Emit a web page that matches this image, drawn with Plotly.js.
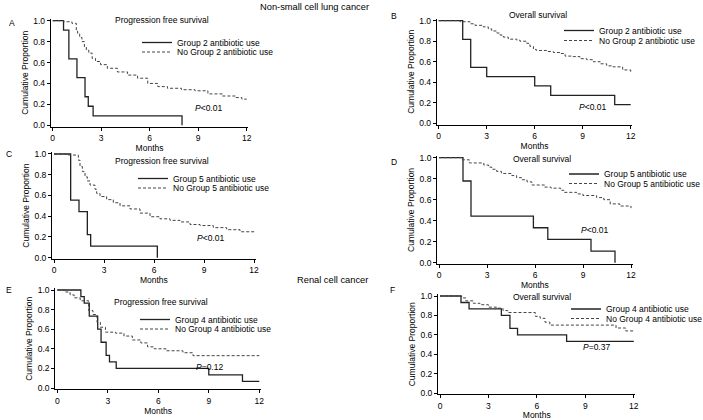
<!DOCTYPE html>
<html><head><meta charset="utf-8">
<script src="https://cdn.plot.ly/plotly-3.0.1.min.js"></script>
<style>html,body{margin:0;padding:0;background:#fff}#chart{width:703px;height:420px}</style>
</head><body><div id="chart"></div>
<script>
// ---------- data (months, cumulative proportion) ----------
const xTicks = [0, 3, 6, 9, 12];
const yTicks = [0, 0.2, 0.4, 0.6, 0.8, 1.0];

// A: NSCLC PFS, Group 2
const A_use_t = [0, 0.67, 1.0, 1.5, 2.0, 2.2, 2.5, 8.0];
const A_use_s = [1, 0.909, 0.636, 0.455, 0.273, 0.182, 0.091, 0];
const A_no_t = [0, 0.67, 1.19, 1.46, 1.54, 1.67, 1.81, 1.96, 2.08, 2.23, 2.44, 2.65, 2.96, 3.38, 4.0, 4.63, 5.25, 5.88, 6.5, 7.1, 7.96, 8.8, 9.6, 10.5, 11.3, 11.7, 12];
const A_no_s = [1, 0.99, 0.975, 0.91, 0.88, 0.84, 0.80, 0.75, 0.72, 0.69, 0.64, 0.61, 0.58, 0.545, 0.51, 0.48, 0.45, 0.40, 0.37, 0.354, 0.34, 0.33, 0.30, 0.28, 0.265, 0.25, 0.25];

// B: NSCLC OS, Group 2
const B_use_t = [0, 1.5, 2.0, 3.0, 6.0, 7.0, 11.0, 12];
const B_use_s = [1, 0.818, 0.545, 0.455, 0.364, 0.273, 0.182, 0.182];
const B_no_t = [0, 1.33, 1.96, 2.27, 2.79, 3.1, 3.31, 3.63, 3.83, 4.04, 4.35, 4.88, 5.08, 5.5, 5.7, 5.92, 6.1, 6.75, 7.17, 7.58, 7.9, 8.4, 8.83, 9.25, 9.67, 10.1, 10.5, 10.9, 11.5, 12];
const B_no_s = [1, 0.99, 0.97, 0.955, 0.94, 0.92, 0.90, 0.88, 0.86, 0.84, 0.82, 0.81, 0.80, 0.78, 0.75, 0.72, 0.71, 0.70, 0.69, 0.68, 0.655, 0.65, 0.63, 0.62, 0.60, 0.58, 0.56, 0.55, 0.52, 0.50];

// C: NSCLC PFS, Group 5
const C_use_t = [0, 1.0, 1.5, 2.0, 2.2, 6.2];
const C_use_s = [1, 0.556, 0.444, 0.222, 0.111, 0];
const C_no_t = [0, 0.86, 1.46, 1.56, 1.7, 1.86, 2.0, 2.16, 2.46, 2.56, 2.76, 3.16, 3.56, 3.96, 4.56, 5.16, 5.76, 6.36, 6.96, 7.56, 8.16, 8.76, 9.56, 10.36, 11.16, 12];
const C_no_s = [1, 0.99, 0.94, 0.88, 0.83, 0.78, 0.74, 0.70, 0.66, 0.62, 0.59, 0.56, 0.53, 0.50, 0.47, 0.43, 0.395, 0.375, 0.36, 0.345, 0.32, 0.31, 0.29, 0.27, 0.25, 0.245];

// D: NSCLC OS, Group 5
const D_use_t = [0, 1.5, 2.0, 5.9, 6.8, 9.5, 11.0];
const D_use_s = [1, 0.778, 0.444, 0.333, 0.222, 0.111, 0];
const D_no_t = [0, 1.43, 1.9, 2.8, 3.1, 3.3, 3.6, 3.9, 4.55, 4.85, 5.16, 5.5, 5.8, 6.6, 7.0, 7.6, 7.8, 8.6, 9.0, 9.85, 10.3, 10.7, 11.3, 12];
const D_no_s = [1, 0.98, 0.95, 0.93, 0.91, 0.89, 0.87, 0.85, 0.83, 0.81, 0.79, 0.77, 0.74, 0.72, 0.71, 0.69, 0.67, 0.655, 0.64, 0.62, 0.60, 0.56, 0.54, 0.52];

// E: RCC PFS, Group 4
const E_use_t = [0, 1.4, 1.6, 1.9, 2.4, 2.6, 2.9, 3.1, 3.5, 9.0, 11.0, 12];
const E_use_s = [1, 0.933, 0.867, 0.733, 0.6, 0.467, 0.333, 0.267, 0.2, 0.133, 0.067, 0.067];
const E_no_t = [0, 0.46, 0.76, 1.0, 1.36, 1.86, 2.12, 2.36, 2.56, 2.86, 3.46, 3.96, 4.46, 4.96, 5.36, 5.76, 6.46, 7.46, 8.06, 12];
const E_no_s = [1, 0.98, 0.95, 0.92, 0.89, 0.79, 0.75, 0.67, 0.62, 0.57, 0.56, 0.53, 0.49, 0.46, 0.42, 0.40, 0.38, 0.36, 0.33, 0.33];

// F: RCC OS, Group 4
const F_use_t = [0, 1.3, 1.8, 3.8, 4.33, 4.8, 7.84, 12];
const F_use_s = [1, 0.933, 0.867, 0.8, 0.667, 0.6, 0.533, 0.533];
const F_no_t = [0, 1.34, 1.6, 2.06, 2.47, 3.0, 3.5, 3.9, 4.2, 5.9, 6.2, 6.5, 6.8, 10.9, 11.5, 12];
const F_no_s = [1, 0.98, 0.95, 0.925, 0.91, 0.885, 0.875, 0.85, 0.83, 0.79, 0.77, 0.73, 0.70, 0.67, 0.64, 0.64];

const panelLetters = ['A', 'B', 'C', 'D', 'E', 'F'];
const panelTitles = ['Progression free survival', 'Overall survival', 'Progression free survival', 'Overall survival', 'Progression free survival', 'Overall survival'];
const useLabels = ['Group 2 antibiotic use', 'Group 2 antibiotic use', 'Group 5 antibiotic use', 'Group 5 antibiotic use', 'Group 4 antibiotic use', 'Group 4 antibiotic use'];
const noLabels = ['No Group 2 antibiotic use', 'No Group 2 antibiotic use', 'No Group 5 antibiotic use', 'No Group 5 antibiotic use', 'No Group 4 antibiotic use', 'No Group 4 antibiotic use'];
const pLabels = ['<i>P</i>&lt;0.01', '<i>P</i>&lt;0.01', '<i>P</i>&lt;0.01', '<i>P</i>&lt;0.01', '<i>P</i>=0.12', '<i>P</i>=0.37'];
const sectionTitles = ['Non-small cell lung cancer', 'Renal cell cancer'];
const xTitle = 'Months';
const yTitle = 'Cumulative Proportion';

const useT = [A_use_t, B_use_t, C_use_t, D_use_t, E_use_t, F_use_t];
const useS = [A_use_s, B_use_s, C_use_s, D_use_s, E_use_s, F_use_s];
const noT = [A_no_t, B_no_t, C_no_t, D_no_t, E_no_t, F_no_t];
const noS = [A_no_s, B_no_s, C_no_s, D_no_s, E_no_s, F_no_s];

// ---------- layout geometry (pixels) ----------
const W = 703, H = 420;
const FONT = 'Arial, "Liberation Sans", sans-serif';
const FS = 8.5;
const geo = [
  {x0: 52.7, x12: 246.7, y0: 125.3, y1: 20.7, let: [6.7, 22.7], tit: [161.7, 20], p: [193, 107.7], leg: [137, 42.5, 52]},
  {x0: 438.7, x12: 630.7, y0: 123.3, y1: 20.7, let: [389.3, 16], tit: [537.5, 15], p: [577, 107], leg: [559, 30.5, 40.5]},
  {x0: 54, x12: 254, y0: 257.7, y1: 154, let: [4, 154], tit: [161.7, 161], p: [195, 237.7], leg: [133, 178.5, 188]},
  {x0: 439, x12: 631, y0: 262.7, y1: 157.7, let: [389.3, 161.7], tit: [542, 159], p: [579, 230], leg: [564, 174, 183.5]},
  {x0: 57.3, x12: 259.3, y0: 388, y1: 290, let: [4, 290], tit: [161.3, 302.3], p: [194, 367.3], leg: [135, 319.5, 329]},
  {x0: 440, x12: 633.8, y0: 393, y1: 296, let: [388.3, 290], tit: [542.3, 297], p: [581, 347.2], leg: [566, 309, 318.5]}
];
const XR = [-0.12, 12.1], YR = [-0.015, 1.02];

const traces = [];
const layout = {
  width: W, height: H,
  margin: {l: 0, r: 0, t: 0, b: 0, pad: 0, autoexpand: false},
  paper_bgcolor: '#fff', plot_bgcolor: '#fff',
  font: {family: FONT, size: FS, color: '#000'},
  annotations: [],
  showlegend: true
};
const ann = (px, py, text, opts) => Object.assign({
  xref: 'paper', yref: 'paper', x: px / W, y: 1 - py / H, text: text,
  showarrow: false, xanchor: 'left', yanchor: 'middle',
  font: {family: FONT, size: FS, color: '#000'}
}, opts || {});

geo.forEach((g, i) => {
  const n = i + 1;
  const sfx = n === 1 ? '' : String(n);
  const pxX = (g.x12 - g.x0) / 12, pxY = g.y0 - g.y1;
  const left = g.x0 + XR[0] * pxX, right = g.x0 + XR[1] * pxX;
  const bottom = g.y0 - YR[0] * pxY, top = g.y0 - YR[1] * pxY;
  const axBase = {
    showgrid: false, zeroline: false, showline: true, linecolor: '#000', linewidth: 1,
    ticks: 'outside', ticklen: 3, tickwidth: 1, tickcolor: '#000', automargin: false,
    tickfont: {family: FONT, size: FS, color: '#000'}, fixedrange: true
  };
  layout['xaxis' + sfx] = Object.assign({}, axBase, {
    domain: [left / W, right / W], range: XR, anchor: 'y' + sfx,
    tickvals: xTicks, ticktext: xTicks.map(String),
    title: {text: xTitle, font: {family: FONT, size: FS, color: '#000'}, standoff: 0}
  });
  layout['yaxis' + sfx] = Object.assign({}, axBase, {
    domain: [1 - bottom / H, 1 - top / H], range: YR, anchor: 'x' + sfx,
    tickvals: yTicks, ticktext: yTicks.map(v => v.toFixed(1)),
    title: {text: yTitle, font: {family: FONT, size: FS, color: '#000'}, standoff: 3}
  });
  const lg1 = 'legend' + (2 * i + 1 === 1 ? '' : String(2 * i + 1));
  const lg2 = 'legend' + String(2 * i + 2);
  traces.push({
    type: 'scatter', mode: 'lines', x: useT[i], y: useS[i], xaxis: 'x' + sfx, yaxis: 'y' + sfx,
    line: {shape: 'hv', color: '#222', width: 1.3}, name: useLabels[i], legend: lg1, hoverinfo: 'skip'
  });
  traces.push({
    type: 'scatter', mode: 'lines', x: noT[i], y: noS[i], xaxis: 'x' + sfx, yaxis: 'y' + sfx,
    line: {shape: 'hv', color: '#444', width: 1, dash: '3px,2px'}, name: noLabels[i], legend: lg2, hoverinfo: 'skip'
  });
  const legBase = {
    xanchor: 'left', yanchor: 'middle', bgcolor: 'rgba(0,0,0,0)', borderwidth: 0,
    font: {family: FONT, size: FS, color: '#000'}, itemwidth: 30, tracegroupgap: 0
  };
  layout[lg1] = Object.assign({}, legBase, {x: g.leg[0] / W, y: 1 - g.leg[1] / H});
  layout[lg2] = Object.assign({}, legBase, {x: g.leg[0] / W, y: 1 - g.leg[2] / H});

  layout.annotations.push(ann(g.let[0], g.let[1], panelLetters[i]));
  layout.annotations.push(ann(g.tit[0], g.tit[1], panelTitles[i], {xanchor: 'center'}));
  layout.annotations.push(ann(g.p[0], g.p[1], pLabels[i]));
});
layout.annotations.push(ann(314, 7, sectionTitles[0], {xanchor: 'center', font: {family: FONT, size: 9.3, color: '#000'}}));
layout.annotations.push(ann(332, 280, sectionTitles[1], {xanchor: 'center', font: {family: FONT, size: 9.3, color: '#000'}}));

Plotly.newPlot('chart', traces, layout, {staticPlot: true, displayModeBar: false});
</script></body></html>
